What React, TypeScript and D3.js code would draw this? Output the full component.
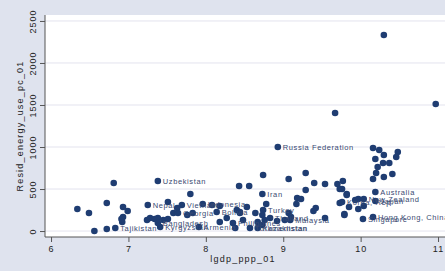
import * as d3 from 'd3';
import { useEffect, useRef } from 'react';

// log GDP per capita (PPP), 2001
const lgdp = [
    6.81, 6.34, 6.49, 6.72, 6.56, 6.72, 6.83, 6.93, 6.99, 6.92,
    6.93, 6.91, 7.25, 7.24, 7.38, 7.80, 7.51, 7.63, 7.69, 7.96,
    8.08, 8.18, 7.28, 7.34, 7.38, 7.45, 7.51, 7.58, 7.64, 7.41,
    7.76, 7.91, 7.83, 8.14, 8.18, 8.27, 8.35, 8.40, 8.44, 8.38,
    8.48, 8.53, 8.43, 8.56, 8.74, 9.07, 9.29, 9.40, 9.54, 9.70,
    9.73, 9.82, 9.29, 8.73, 9.18, 9.23, 9.17, 9.42, 9.39, 9.73,
    9.79, 9.54, 8.78, 8.64, 8.74, 8.73, 8.76, 8.67, 8.73, 8.83,
    9.07, 9.10, 9.02, 8.92, 9.09, 8.57, 8.44, 10.16, 10.24, 10.30,
    10.48, 10.46, 10.19, 10.29, 10.37, 10.22, 10.20, 10.41, 10.30, 10.16,
    9.77, 9.76, 9.82, 10.19, 9.76, 9.93, 9.97, 10.04, 10.19, 9.85,
    9.97, 10.04, 9.79, 10.16, 10.03, 10.30, 9.67, 10.97, 8.93, 7.38,
    8.67
];

// residential energy use per capita, 2001
const resid = [
    571, 262, 214, 333, 0, 24, 36, 286, 238, 107,
    167, 143, 310, 131, 595, 440, 345, 274, 310, 321,
    310, 298, 155, 143, 155, 131, 143, 214, 214, 48,
    190, 48, 214, 226, 107, 155, 95, 250, 214, 36,
    131, 286, 536, 536, 667, 619, 690, 571, 560, 560,
    500, 440, 488, 440, 393, 381, 321, 274, 238, 333,
    202, 155, 321, 214, 250, 190, 131, 107, 71, 155,
    214, 167, 131, 119, 131, 36, 226, 988, 964, 905,
    940, 881, 857, 810, 810, 762, 690, 679, 643, 619,
    595, 500, 429, 464, 345, 369, 381, 381, 357, 286,
    262, 298, 190, 167, 143, 2333, 1405, 1512, 1000, 95,
    36
];

const country = [
    '', '', '', '', '', '', 'Tajikistan', '', '', '',
    '', '', 'Nepal', '', 'Uzbekistan', '', '', '', 'Vietnam', 'Indonesia',
    '', '', '', '', '', '', '', '', 'Georgia', 'Kyrgyzstan',
    '', 'Armenia', '', 'Bolivia', '', '', 'Philippines', '', '', '',
    '', '', '', '', '', '', '', '', '', '',
    '', '', '', 'Iran', '', '', '', '', '', '',
    '', '', '', '', 'Turkey', '', '', '', '', 'Thailand',
    '', '', '', '', 'Malaysia', 'Turkmenistan', '', '', '', '',
    '', '', '', '', '', '', '', '', '', '',
    '', '', '', 'Australia', 'Korea, Rep.', '', '', 'New Zealand', 'Japan', '',
    '', '', '', 'Hong Kong, China', 'Singapore', '', '', '', 'Russia Federation', 'Bangladesh',
    'Kazakhstan'
];

const xTicks = [6, 7, 8, 9, 10, 11];
const yTicks = [0, 500, 1000, 1500, 2000, 2500];

const App = () => {
    const ref = useRef<SVGSVGElement | null>(null);

    useEffect(() => {
        document.body.style.margin = '0';
        if (!ref.current) return;
        const svg = d3.select(ref.current);
        svg.selectAll('*').remove();

        const W = 445, H = 271;
        const left = 45, top = 15, right = 445, bottom = 237;
        const navy = '#1f3d72';
        const font = '"Liberation Sans", Arial, sans-serif';

        const x = d3.scaleLinear().domain([5.922, 11.09]).range([left, right]);
        const y = d3.scaleLinear().domain([-71, 2571]).range([bottom, top]);

        svg.append('rect').attr('width', W).attr('height', H).attr('fill', '#dfe3ee');
        svg.append('rect').attr('x', left).attr('y', top)
            .attr('width', right - left).attr('height', bottom - top).attr('fill', '#ffffff');

        // grid
        svg.append('g').selectAll('line').data(yTicks).enter().append('line')
            .attr('x1', left).attr('x2', right)
            .attr('y1', d => y(d)).attr('y2', d => y(d))
            .attr('stroke', '#e3e3ee').attr('stroke-width', 1);

        // axes
        const yAxis = svg.append('g')
            .attr('transform', `translate(${left},0)`)
            .call(d3.axisLeft(y).tickValues(yTicks).tickSize(5).tickSizeOuter(0).tickFormat(d3.format('d')));
        yAxis.select('.domain').attr('stroke', '#555').attr('d', `M0,${top}V${bottom}`);
        yAxis.selectAll('.tick line').attr('stroke', '#555');
        yAxis.selectAll('.tick text')
            .attr('transform', 'rotate(-90)')
            .attr('x', 0).attr('y', -9).attr('dy', 0)
            .attr('text-anchor', 'middle')
            .style('font-family', font).style('font-size', '9px')
            .style('letter-spacing', '1px').attr('fill', '#222');

        const xAxis = svg.append('g')
            .attr('transform', `translate(0,${bottom})`)
            .call(d3.axisBottom(x).tickValues(xTicks).tickSize(5).tickSizeOuter(0).tickFormat(d3.format('d')));
        xAxis.select('.domain').attr('stroke', '#555').attr('d', `M${left},0H${right}`);
        xAxis.selectAll('.tick line').attr('stroke', '#555');
        xAxis.selectAll('.tick text')
            .attr('y', 15).attr('dy', 0)
            .style('font-family', font).style('font-size', '9px')
            .style('letter-spacing', '1px').attr('fill', '#222');

        svg.append('text')
            .attr('x', 243).attr('y', 262)
            .attr('text-anchor', 'middle')
            .style('font-family', font).style('font-size', '9px').style('letter-spacing', '1.2px')
            .attr('fill', '#222')
            .text('lgdp_ppp_01');

        svg.append('text')
            .attr('transform', `translate(23,126) rotate(-90)`)
            .attr('text-anchor', 'middle')
            .style('font-family', font).style('font-size', '9px').style('letter-spacing', '1.2px')
            .attr('fill', '#222')
            .text('Resid_energy_use_pc_01');

        const data = lgdp.map((v, i) => ({ x: v, y: resid[i], label: country[i] }));

        svg.append('g').selectAll('circle').data(data).enter().append('circle')
            .attr('cx', d => x(d.x)).attr('cy', d => y(d.y))
            .attr('r', 3.3).attr('fill', navy);

        svg.append('g').selectAll('text').data(data.filter(d => d.label)).enter().append('text')
            .attr('x', d => x(d.x) + 5).attr('y', d => y(d.y) + 2.7)
            .style('font-family', font).style('font-size', '7.5px').style('letter-spacing', '0.6px')
            .attr('fill', '#3a4a72')
            .text(d => d.label);
    }, []);

    return <svg ref={ref} width={445} height={271} style={{ display: 'block' }} />;
};

export default App;
